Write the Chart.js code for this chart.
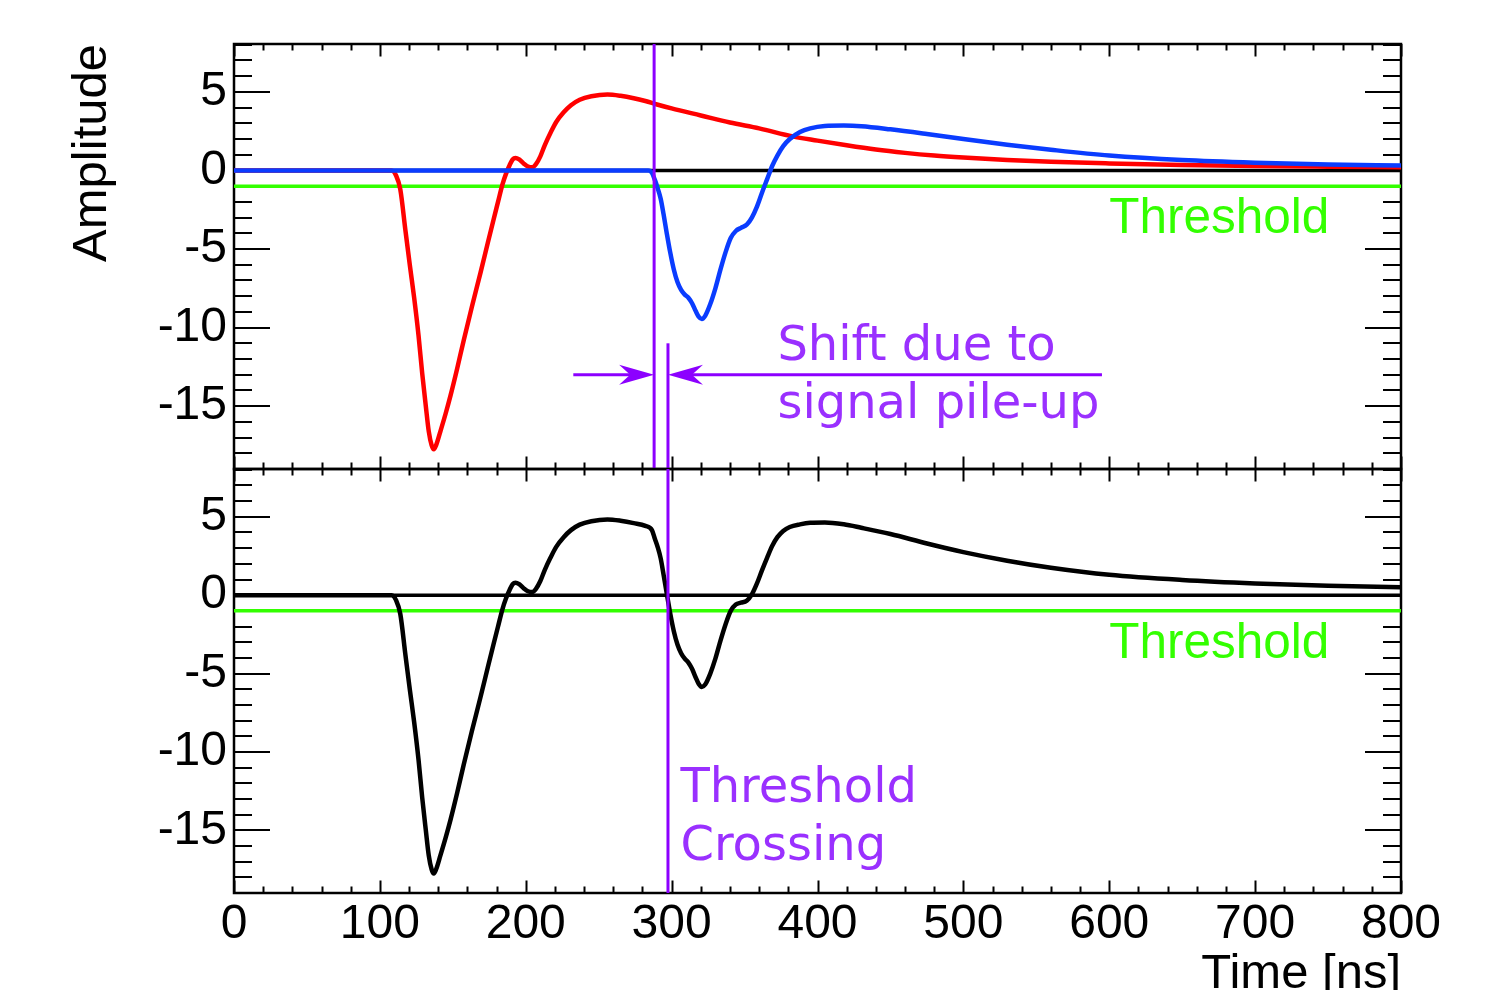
<!DOCTYPE html>
<html>
<head>
<meta charset="utf-8">
<script src="https://cdn.jsdelivr.net/npm/chart.js@4.4.1/dist/chart.umd.min.js"></script>
<style>
  html, body { margin: 0; padding: 0; background: #fff; }
  #wrap { position: relative; width: 1500px; height: 990px; }
  #wrap canvas { position: absolute; left: 0; top: 0; }
</style>
</head>
<body>
<div id="wrap">
  <canvas id="topPanel" width="1500" height="990"></canvas>
  <canvas id="bottomPanel" width="1500" height="990"></canvas>
</div>
<script>
// --- data (time in ns, amplitude in arbitrary units) ---
const xTicks = [0, 100, 200, 300, 400, 500, 600, 700, 800];
const yTicks = [-15, -10, -5, 0, 5];
const timeRange = [0, 800];
const ampRange = [-19, 8.05];
const threshold = -1;
const crossingSingle = 288;     // first pulse alone crosses threshold
const crossingPileup = 297.5;   // summed signal crosses threshold

// first pulse (red)
const redTime = [
  0, 100, 108, 111, 114, 117.5, 120.5, 123.5, 126.5, 129,
  131.5, 133.5, 135.5, 137, 138.5, 141.5, 145, 148.5, 153, 157.5,
  163, 169, 174, 178, 181, 184, 186.5, 189, 191, 193,
  195.5, 198.5, 201.5, 204.5, 207, 210, 213, 217, 221, 226,
  231, 237, 245, 256, 265, 274, 282, 290, 300, 320,
  340, 360, 383, 400, 420, 440, 460, 480, 500, 530,
  560, 600, 650, 700, 750, 800
];
const redAmp = [
  0, 0, 0, -0.3, -1.2, -3.8, -6.0, -8.1, -10.5, -12.9,
  -15.0, -16.6, -17.5, -17.75, -17.5, -16.6, -15.5, -14.3, -12.6, -10.8,
  -8.7, -6.5, -4.6, -3.1, -2.0, -0.9, -0.2, 0.35, 0.7, 0.8,
  0.7, 0.45, 0.25, 0.2, 0.4, 0.9, 1.6, 2.4, 3.1, 3.7,
  4.15, 4.5, 4.72, 4.83, 4.75, 4.6, 4.42, 4.2, 3.95, 3.5,
  3.05, 2.68, 2.17, 1.9, 1.6, 1.33, 1.12, 0.95, 0.82, 0.66,
  0.55, 0.45, 0.35, 0.28, 0.24, 0.21
];

// second pulse (blue)
const blueTime = [
  0, 284, 286.5, 288.5, 290.5, 292.5, 294.5, 296.5, 299, 301.5,
  304, 306.5, 309, 311.5, 314, 316.5, 318.5, 320.7, 323, 326.5,
  330, 333.5, 337, 340.5, 344, 347.5, 351.5, 355, 358.5, 362,
  365.5, 369, 372.5, 376.5, 381, 388, 395, 405, 418, 430,
  450, 475, 500, 530, 560, 600, 650, 700, 750, 800
];
const blueAmp = [
  0, 0, -0.15, -0.6, -1.15, -1.8, -2.8, -3.9, -5.2, -6.3,
  -7.1, -7.6, -7.9, -8.1, -8.45, -8.95, -9.3, -9.45, -9.25, -8.5,
  -7.5, -6.3, -5.2, -4.3, -3.85, -3.65, -3.45, -3.0, -2.3, -1.4,
  -0.55, 0.3, 0.95, 1.55, 2.0, 2.45, 2.68, 2.83, 2.86, 2.82,
  2.62, 2.32, 2.0, 1.64, 1.32, 0.95, 0.66, 0.49, 0.38, 0.31
];

// piled-up signal (black, lower panel)
const sumTime = [
  0, 100, 108, 111, 114, 117.5, 120.5, 123.5, 126.5, 129,
  131.5, 133.5, 135.5, 137, 138.5, 141.5, 145, 148.5, 153, 157.5,
  163, 169, 174, 178, 181, 184, 186.5, 189, 191, 193,
  195.5, 198.5, 201.5, 204.5, 207, 210, 213, 217, 221, 226,
  231, 237, 245, 256, 265, 274, 282, 286.5, 288.5, 290.5,
  292.5, 294.5, 296.5, 299, 301.5, 304, 306.5, 309, 311.5, 314,
  316.5, 318.5, 320.7, 323, 326.5, 330, 333.5, 337, 340.5, 344,
  347.5, 351.5, 355, 358.5, 362, 365.5, 369, 372.5, 376.5, 381,
  388, 395, 405, 418, 430, 450, 475, 500, 530, 560,
  600, 650, 700, 750, 800
];
const sumAmp = [
  0, 0, 0, -0.3, -1.2, -3.8, -6.0, -8.1, -10.5, -12.9,
  -15.0, -16.6, -17.5, -17.75, -17.5, -16.6, -15.5, -14.3, -12.6, -10.8,
  -8.7, -6.5, -4.6, -3.1, -2.0, -0.9, -0.2, 0.35, 0.7, 0.8,
  0.7, 0.45, 0.25, 0.2, 0.4, 0.9, 1.6, 2.4, 3.1, 3.7,
  4.15, 4.5, 4.72, 4.83, 4.75, 4.6, 4.42, 4.15, 3.6, 3.05,
  2.35, 1.3, 0.2, -1.15, -2.3, -3.15, -3.7, -4.05, -4.3, -4.7,
  -5.25, -5.65, -5.85, -5.7, -5.0, -4.05, -2.9, -1.85, -1.0, -0.6,
  -0.48, -0.35, 0.05, 0.75, 1.6, 2.4, 3.15, 3.7, 4.1, 4.35,
  4.52, 4.62, 4.64, 4.52, 4.3, 3.9, 3.3, 2.75, 2.2, 1.75,
  1.3, 0.97, 0.75, 0.6, 0.5
];

const RED = '#ff0000', BLUE = '#0a3cff', GREEN = '#33ff00', VIOLET = '#8c00ff', VIOLET_TXT = '#9a30ff';

const pts = (xs, ys) => xs.map((x, i) => ({ x, y: ys[i] }));
const hline = (y) => [{ x: timeRange[0], y }, { x: timeRange[1], y }];
const vline = (x, y0, y1) => [{ x, y: y0 }, { x, y: y1 }];

const curve = (data, color) => ({ data, borderColor: color, borderWidth: 4.5, pointRadius: 0, cubicInterpolationMode: 'monotone', fill: false });
const straight = (data, color, w) => ({ data, borderColor: color, borderWidth: w, pointRadius: 0, tension: 0, fill: false });

// ROOT-like frame with ticks on all four sides
const rootFrame = {
  id: 'rootFrame',
  beforeDatasetsDraw(chart) {
    const { ctx, chartArea: a, scales: { x, y } } = chart;
    ctx.save();
    ctx.strokeStyle = '#000';
    ctx.lineWidth = 2;
    ctx.beginPath();
    for (let t = timeRange[0]; t <= timeRange[1]; t += 20) {
      const px = Math.round(x.getPixelForValue(t)) + 0.5;
      const len = t % 100 === 0 ? 12.5 : 6.5;
      ctx.moveTo(px, a.bottom); ctx.lineTo(px, a.bottom - len);
      ctx.moveTo(px, a.top); ctx.lineTo(px, a.top + len);
    }
    for (let v = Math.ceil(ampRange[0]); v <= ampRange[1]; v++) {
      const py = Math.round(y.getPixelForValue(v));
      const len = v % 5 === 0 ? 36 : 18;
      ctx.moveTo(a.left, py); ctx.lineTo(a.left + len, py);
      ctx.moveTo(a.right, py); ctx.lineTo(a.right - len, py);
    }
    ctx.stroke();
    ctx.lineWidth = 2.5;
    ctx.strokeRect(a.left, a.top, a.right - a.left, a.bottom - a.top);
    ctx.restore();
  }
};

// text labels and arrows, placed in data coordinates
const notes = {
  id: 'notes',
  afterDatasetsDraw(chart, args, opts) {
    const { ctx, scales: { x, y } } = chart;
    ctx.save();
    (opts.arrows || []).forEach(ar => {
      const x0 = x.getPixelForValue(ar.from), x1 = x.getPixelForValue(ar.to), py = y.getPixelForValue(ar.y);
      const d = Math.sign(x1 - x0);
      ctx.strokeStyle = VIOLET; ctx.fillStyle = VIOLET; ctx.lineWidth = 3;
      ctx.beginPath(); ctx.moveTo(x0, py); ctx.lineTo(x1 - d * 20, py); ctx.stroke();
      ctx.beginPath();
      ctx.moveTo(x1, py);
      ctx.lineTo(x1 - d * 35, py - 10);
      ctx.lineTo(x1 - d * 24, py);
      ctx.lineTo(x1 - d * 35, py + 10);
      ctx.closePath(); ctx.fill();
    });
    (opts.texts || []).forEach(tx => {
      ctx.font = tx.font;
      ctx.fillStyle = tx.color;
      ctx.textAlign = 'left';
      ctx.textBaseline = 'alphabetic';
      ctx.fillText(tx.text, x.getPixelForValue(tx.x), y.getPixelForValue(tx.y));
    });
    ctx.restore();
  }
};

Chart.defaults.font.family = '"Liberation Sans", Arial, sans-serif';
Chart.defaults.color = '#000';

function xScale(showLabels) {
  return {
    type: 'linear', min: timeRange[0], max: timeRange[1],
    afterBuildTicks: s => { s.ticks = xTicks.map(v => ({ value: v })); },
    afterFit: s => { s.height = showLabels ? 97 : 0; },
    grid: { display: false, drawTicks: false },
    border: { display: false },
    ticks: { display: showLabels, font: { size: 48 }, padding: 3, maxRotation: 0, autoSkip: false },
    title: { display: showLabels, text: 'Time [ns]', align: 'end', font: { size: 49, lineHeight: 0.62 }, padding: 0 }
  };
}
function yScale(showTitle) {
  return {
    type: 'linear', min: ampRange[0], max: ampRange[1],
    afterBuildTicks: s => { s.ticks = yTicks.map(v => ({ value: v })); },
    afterFit: s => { s.width = 234; },
    grid: { display: false, drawTicks: false },
    border: { display: false },
    ticks: { font: { size: 48 }, padding: 7 },
    title: { display: showTitle, text: 'Amplitude', align: 'end', font: { size: 49 }, padding: { top: 63 } }
  };
}
const greenLabel = { text: 'Threshold', x: 600, y: -4, font: '49.5px "Liberation Sans", Arial, sans-serif', color: GREEN };
const violetFont = '48px "DejaVu Sans", sans-serif';

new Chart(document.getElementById('topPanel'), {
  type: 'line',
  data: {
    datasets: [
      straight(vline(crossingSingle, ampRange[0], ampRange[1]), VIOLET, 3),
      straight(vline(crossingPileup, ampRange[0], -11), VIOLET, 3),
      curve(pts(blueTime, blueAmp), BLUE),
      curve(pts(redTime, redAmp), RED),
      straight(hline(threshold), GREEN, 3.5),
      straight(hline(0), '#000', 3.5)
    ]
  },
  options: {
    responsive: false, animation: false, devicePixelRatio: 1,
    layout: { padding: { left: 0, right: 99, top: 44, bottom: 521 } },
    plugins: {
      legend: { display: false }, tooltip: { enabled: false },
      notes: {
        arrows: [
          { from: 232.6, to: crossingSingle, y: -13 },
          { from: 595, to: crossingPileup, y: -13 }
        ],
        texts: [
          greenLabel,
          { text: 'Shift due to', x: 372.5, y: -12.05, font: violetFont, color: VIOLET_TXT },
          { text: 'signal pile-up', x: 372.5, y: -15.75, font: violetFont, color: VIOLET_TXT }
        ]
      }
    },
    scales: { x: xScale(false), y: yScale(true) }
  },
  plugins: [rootFrame, notes]
});

new Chart(document.getElementById('bottomPanel'), {
  type: 'line',
  data: {
    datasets: [
      straight(vline(crossingPileup, ampRange[0], ampRange[1]), VIOLET, 3),
      curve(pts(sumTime, sumAmp), '#000'),
      straight(hline(threshold), GREEN, 3.5),
      straight(hline(0), '#000', 3.5)
    ]
  },
  options: {
    responsive: false, animation: false, devicePixelRatio: 1,
    layout: { padding: { left: 0, right: 99, top: 469, bottom: 0 } },
    plugins: {
      legend: { display: false }, tooltip: { enabled: false },
      notes: {
        texts: [
          greenLabel,
          { text: 'Threshold', x: 306, y: -13.2, font: violetFont, color: VIOLET_TXT },
          { text: 'Crossing', x: 306, y: -16.9, font: violetFont, color: VIOLET_TXT }
        ]
      }
    },
    scales: { x: xScale(true), y: yScale(false) }
  },
  plugins: [rootFrame, notes]
});
</script>
</body>
</html>
